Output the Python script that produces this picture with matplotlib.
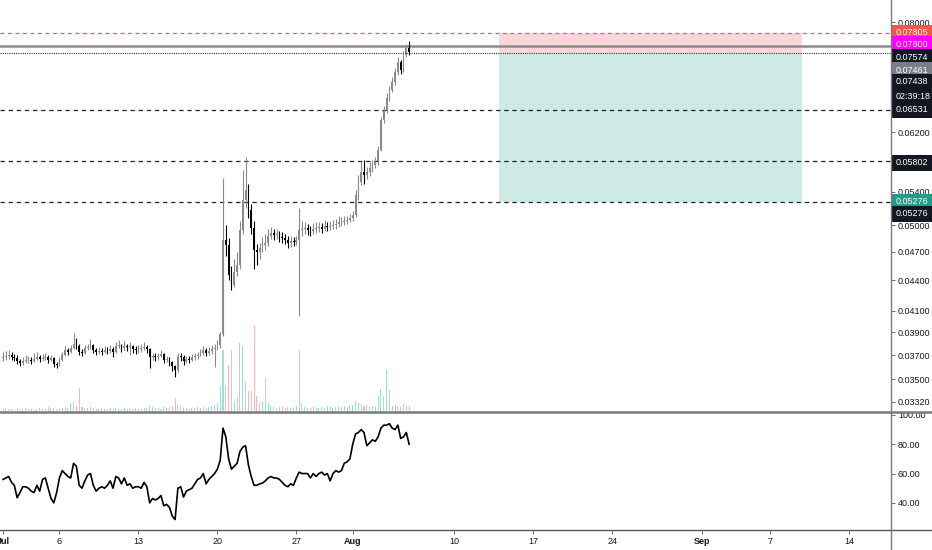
#!/usr/bin/env python

import numpy as np
import pandas as pd
import matplotlib
matplotlib.use("Agg")
import matplotlib.pyplot as plt
import matplotlib.dates as mdates
from matplotlib.lines import Line2D
from matplotlib.ticker import NullLocator, FixedLocator, FixedFormatter

# 6h candles from Jul 1
first_open = 0.03676
close = [
    0.03684, 0.03693, 0.03701, 0.03684, 0.03676, 0.03650, 0.03633, 0.03650, 0.03659, 0.03659,
    0.03650, 0.03667, 0.03684, 0.03667, 0.03676, 0.03684, 0.03659, 0.03676, 0.03625, 0.03616,
    0.03659, 0.03701, 0.03744, 0.03727, 0.03762, 0.03797, 0.03779, 0.03727, 0.03718, 0.03762,
    0.03770, 0.03788, 0.03744, 0.03727, 0.03735, 0.03727, 0.03744, 0.03735, 0.03753, 0.03727,
    0.03779, 0.03788, 0.03762, 0.03779, 0.03770, 0.03779, 0.03753, 0.03744, 0.03753, 0.03762,
    0.03770, 0.03753, 0.03684, 0.03693, 0.03684, 0.03693, 0.03710, 0.03659, 0.03667, 0.03642,
    0.03608, 0.03575, 0.03693, 0.03684, 0.03650, 0.03667, 0.03659, 0.03684, 0.03693, 0.03701,
    0.03718, 0.03744, 0.03718, 0.03735, 0.03753, 0.03762, 0.03788, 0.03886, 0.04830, 0.04774,
    0.04454, 0.04352, 0.04485, 0.04558, 0.04943, 0.05299, 0.05423, 0.05177, 0.04966, 0.04719,
    0.04697, 0.04741, 0.04774, 0.04796, 0.04876, 0.04909, 0.04887, 0.04898, 0.04864, 0.04853,
    0.04830, 0.04796, 0.04819, 0.04808, 0.04830, 0.04943, 0.04955, 0.04966, 0.04943, 0.04932,
    0.04955, 0.04966, 0.04978, 0.04955, 0.04989, 0.04978, 0.04989, 0.05001, 0.05013, 0.05036,
    0.05036, 0.05047, 0.05059, 0.05083, 0.05118, 0.05360, 0.05524, 0.05654, 0.05614, 0.05654,
    0.05706, 0.05746, 0.05786, 0.05949, 0.06376, 0.06526, 0.06710, 0.06835, 0.06963, 0.07126,
    0.07293, 0.07159, 0.07412, 0.07532, 0.07461]
high = [
    0.03730, 0.03735, 0.03740, 0.03725, 0.03710, 0.03700, 0.03670, 0.03680, 0.03700, 0.03690,
    0.03685, 0.03720, 0.03730, 0.03705, 0.03710, 0.03715, 0.03700, 0.03705, 0.03680, 0.03645,
    0.03685, 0.03730, 0.03775, 0.03760, 0.03790, 0.03890, 0.03850, 0.03800, 0.03750, 0.03790,
    0.03800, 0.03840, 0.03800, 0.03760, 0.03770, 0.03760, 0.03775, 0.03770, 0.03790, 0.03770,
    0.03810, 0.03830, 0.03800, 0.03820, 0.03800, 0.03810, 0.03790, 0.03780, 0.03790, 0.03800,
    0.03810, 0.03790, 0.03760, 0.03720, 0.03715, 0.03720, 0.03740, 0.03720, 0.03690, 0.03680,
    0.03650, 0.03620, 0.03720, 0.03720, 0.03700, 0.03690, 0.03690, 0.03710, 0.03720, 0.03730,
    0.03750, 0.03775, 0.03760, 0.03770, 0.03790, 0.03800, 0.03830, 0.03900, 0.05570, 0.05000,
    0.04850, 0.04550, 0.04620, 0.04700, 0.05050, 0.05680, 0.05850, 0.05500, 0.05250, 0.05050,
    0.04780, 0.04800, 0.04860, 0.04900, 0.04950, 0.04980, 0.04950, 0.04960, 0.04930, 0.04920,
    0.04900, 0.04880, 0.04870, 0.04860, 0.04880, 0.05200, 0.05050, 0.05040, 0.05010, 0.04990,
    0.05020, 0.05030, 0.05040, 0.05020, 0.05060, 0.05040, 0.05050, 0.05060, 0.05070, 0.05100,
    0.05090, 0.05100, 0.05110, 0.05130, 0.05170, 0.05420, 0.05620, 0.05800, 0.05810, 0.05720,
    0.05790, 0.05810, 0.05850, 0.06000, 0.06420, 0.06580, 0.06780, 0.06900, 0.07050, 0.07200,
    0.07380, 0.07320, 0.07480, 0.07600, 0.07650]
low = [
    0.03650, 0.03660, 0.03670, 0.03660, 0.03650, 0.03625, 0.03610, 0.03620, 0.03635, 0.03630,
    0.03625, 0.03640, 0.03655, 0.03640, 0.03650, 0.03655, 0.03630, 0.03650, 0.03600, 0.03595,
    0.03610, 0.03650, 0.03690, 0.03700, 0.03720, 0.03750, 0.03750, 0.03700, 0.03690, 0.03710,
    0.03740, 0.03750, 0.03720, 0.03700, 0.03710, 0.03700, 0.03715, 0.03710, 0.03720, 0.03680,
    0.03720, 0.03760, 0.03730, 0.03740, 0.03735, 0.03700, 0.03720, 0.03710, 0.03720, 0.03730,
    0.03740, 0.03720, 0.03590, 0.03660, 0.03650, 0.03660, 0.03680, 0.03630, 0.03640, 0.03610,
    0.03570, 0.03520, 0.03560, 0.03650, 0.03620, 0.03630, 0.03630, 0.03650, 0.03660, 0.03670,
    0.03690, 0.03700, 0.03690, 0.03700, 0.03710, 0.03600, 0.03740, 0.03760, 0.03870, 0.04650,
    0.04400, 0.04300, 0.04330, 0.04440, 0.04520, 0.04900, 0.05200, 0.05080, 0.04900, 0.04520,
    0.04560, 0.04620, 0.04700, 0.04720, 0.04760, 0.04840, 0.04830, 0.04840, 0.04810, 0.04800,
    0.04780, 0.04740, 0.04750, 0.04760, 0.04770, 0.04050, 0.04880, 0.04900, 0.04890, 0.04880,
    0.04900, 0.04910, 0.04920, 0.04910, 0.04930, 0.04930, 0.04940, 0.04950, 0.04960, 0.04980,
    0.04990, 0.05000, 0.05010, 0.05030, 0.05050, 0.05090, 0.05300, 0.05480, 0.05500, 0.05560,
    0.05600, 0.05650, 0.05700, 0.05740, 0.05930, 0.06330, 0.06480, 0.06670, 0.06800, 0.06920,
    0.07080, 0.07100, 0.07130, 0.07380, 0.07420]
volume = [
    2, 3, 2, 2, 1, 3, 2, 2, 3, 2, 2, 1, 2, 3, 2, 2, 4, 3, 3, 2,
    3, 3, 4, 3, 8, 10, 5, 23, 4, 3, 3, 4, 3, 2, 2, 3, 2, 2, 3, 2,
    3, 2, 2, 3, 2, 3, 2, 3, 2, 2, 3, 3, 6, 4, 3, 3, 2, 4, 3, 4,
    5, 13, 6, 4, 3, 3, 2, 3, 3, 4, 3, 4, 3, 4, 5, 6, 8, 25, 61, 26,
    46, 61, 10, 14, 68, 65, 30, 20, 20, 86, 15, 8, 10, 33, 8, 5, 4, 3, 4, 5,
    3, 4, 3, 4, 5, 61, 8, 4, 3, 3, 4, 3, 3, 4, 3, 5, 4, 3, 4, 5,
    4, 5, 4, 6, 6, 10, 8, 7, 5, 6, 4, 5, 4, 15, 22, 15, 41, 21, 5, 6,
    5, 4, 7, 5, 5]
rsi = [
    56, 57, 58, 54, 52, 43.5, 47, 51, 51, 50, 48, 47, 52, 48, 56, 57, 50, 43, 40, 47,
    57, 62, 60, 58, 57, 67, 65, 52, 50, 55, 59, 60, 52, 48, 50, 51, 50, 52, 55, 50,
    58, 57, 53, 57, 52, 53, 50, 51, 51, 50, 54, 51, 40, 43, 42, 43, 45, 38, 39, 37,
    31, 28.6, 50, 51, 44, 48, 49, 50, 53, 56, 57, 60, 53, 56, 58, 60, 63, 69, 91, 85,
    70, 63, 65, 67, 75, 78, 79, 66, 58, 52, 52, 53, 53.5, 55, 57, 58, 57, 57, 56, 54,
    52, 51, 53, 52, 57, 61, 60, 60, 60, 57, 60, 58, 60, 61, 59, 60, 55, 60, 62, 61,
    62, 67, 68, 70, 80, 87, 88, 90, 88, 79, 81, 83, 82, 85, 91, 93, 93, 94, 91, 90,
    93, 84, 85, 88, 80]

price_ticks = [0.0332, 0.035, 0.037, 0.039, 0.041, 0.044, 0.047, 0.05, 0.054, 0.062, 0.08]
rsi_ticks = [40, 60, 80, 100]
date_ticks = ["2020-07-01", "2020-07-06", "2020-07-13", "2020-07-20", "2020-07-27", "2020-08-01",
              "2020-08-10", "2020-08-17", "2020-08-24", "2020-09-01", "2020-09-07", "2020-09-14"]
date_labels = ["Jul", "6", "13", "20", "27", "Aug", "10", "17", "24", "Sep", "7", "14"]

# levels
resist = [0.06531, 0.05802, 0.05276]
magenta_lvl = 0.07800
gray_lvl = 0.07574
entry = 0.07438
stop = 0.07805
target = 0.05276
pos_start = "2020-08-14"
pos_end = "2020-09-09 20:00"

# right axis labels: text, price, box color, shift down (px)
tags = [
    ("0.07805", 0.07805, "#f4574a", 0),
    ("0.07800", 0.07800, "#ff00ff", 11.5),
    ("0.07574", 0.07574, "#131722", 11.5),
    ("0.07461", 0.07461, "#7b7e87", 18),
    ("0.07438", 0.07438, "#131722", 28.5),
    ("02:39:18", 0.07438, "#131722", 43.5),
    ("0.06531", 0.06531, "#131722", 0),
    ("0.05802", 0.05802, "#131722", 2),
    ("0.05276", 0.05276, "#1f9e89", 0),
    ("0.05276", 0.05276, "#131722", 12),
]


def main():
    plt.rcParams["font.family"] = ["Liberation Sans", "DejaVu Sans"]
    fs = 6.5

    t = mdates.date2num(pd.date_range("2020-07-01", periods=len(close), freq="6h"))
    c = np.array(close)
    o = np.r_[first_open, c[:-1]]
    h = np.array(high)
    l = np.array(low)
    up = c >= o

    W, H = 932, 550
    fig = plt.figure(figsize=(W / 100, H / 100), dpi=100)
    ax = fig.add_axes([0, 139 / H, 891 / W, 411 / H])
    ax2 = fig.add_axes([0, 20 / H, 891 / W, 118 / H], sharex=ax)
    axv = ax.twinx()
    ax.set_zorder(axv.get_zorder() + 1)
    ax.patch.set_visible(False)

    t0 = mdates.date2num(pd.Timestamp("2020-07-01"))
    ax.set_xlim(t0 - 0.27, t0 + 78.72)

    # volume
    vcol = np.where(up, "#26a69a", "#ef5350")
    axv.bar(t, volume, width=0.09, color=vcol, alpha=0.4, linewidth=0)
    axv.set_ylim(0, 413)
    axv.axis("off")

    # position box
    xs = mdates.date2num([pd.Timestamp(pos_start), pd.Timestamp(pos_end)])
    ax.fill_between(xs, entry, stop, color="#f23645", alpha=0.2, linewidth=0)
    ax.fill_between(xs, target, entry, color="#089981", alpha=0.2, linewidth=0)

    # horizontal levels
    ax.axhline(magenta_lvl, color="#e040fb", lw=0.9, ls=(0, (3, 3)))
    ax.axhline(gray_lvl, color="#8c8c8c", lw=1.8)
    ax.axhline(entry, color="#333333", lw=0.8, ls=(0, (1, 1)))
    for r in resist:
        ax.axhline(r, color="#222222", lw=0.9, ls=(0, (3.5, 3)))

    # candles
    cc = np.where(up, "#8a8a8a", "#000000")
    ax.vlines(t, l, h, colors=cc, lw=0.8)
    ax.bar(t, np.abs(c - o), bottom=np.minimum(o, c), width=0.15, color=cc, linewidth=0)

    ax.set_yscale("log")
    ax.set_ylim(0.03251, 0.08418)
    ax.yaxis.set_major_locator(FixedLocator(price_ticks))
    ax.yaxis.set_major_formatter(FixedFormatter(["%.5f" % p for p in price_ticks]))
    ax.yaxis.set_minor_locator(NullLocator())
    ax.yaxis.tick_right()
    ax.tick_params(axis="y", length=3, width=0.6, color="#555555", labelsize=fs,
                   labelcolor="#131722", pad=2)
    ax.tick_params(axis="x", bottom=False, labelbottom=False)
    for s in ax.spines.values():
        s.set_visible(False)

    for txt, p, col, dy in tags:
        ax.annotate(txt, xy=(1, p), xycoords=("axes fraction", "data"),
                    xytext=(5, -dy), textcoords="offset pixels", ha="left", va="center",
                    fontsize=fs, color="white", annotation_clip=False,
                    bbox=dict(boxstyle="square,pad=0.4", fc=col, ec="none"))

    # RSI
    ax2.plot(t, rsi, color="#000000", lw=1.2)
    ax2.set_ylim(21.5, 102)
    ax2.set_yticks(rsi_ticks)
    ax2.set_yticklabels(["%.2f" % v for v in rsi_ticks])
    ax2.yaxis.tick_right()
    ax2.tick_params(axis="y", length=3, width=0.6, color="#555555", labelsize=fs,
                    labelcolor="#131722", pad=2)
    ax2.set_xticks(mdates.date2num(pd.to_datetime(date_ticks)))
    ax2.set_xticklabels(date_labels)
    ax2.tick_params(axis="x", length=3, width=0.6, color="#555555", labelsize=fs,
                    labelcolor="#131722", pad=2)
    for lab in ax2.get_xticklabels():
        if lab.get_text() in ("Jul", "Aug", "Sep"):
            lab.set_fontweight("bold")
    for s in ax2.spines.values():
        s.set_visible(False)
    ax2.patch.set_visible(False)

    # pane separators and scale border
    fig.add_artist(Line2D([0, 1], [1 - 411.5 / H] * 2, transform=fig.transFigure,
                          color="#7a7a7a", lw=1.8))
    fig.add_artist(Line2D([0, 1], [20 / H] * 2, transform=fig.transFigure,
                          color="#555555", lw=1.0))
    fig.add_artist(Line2D([891 / W] * 2, [0, 1], transform=fig.transFigure,
                          color="#7a7a7a", lw=1.0))

    fig.savefig("out.png", dpi=100)
    plt.close()


if __name__ == "__main__":
    main()
